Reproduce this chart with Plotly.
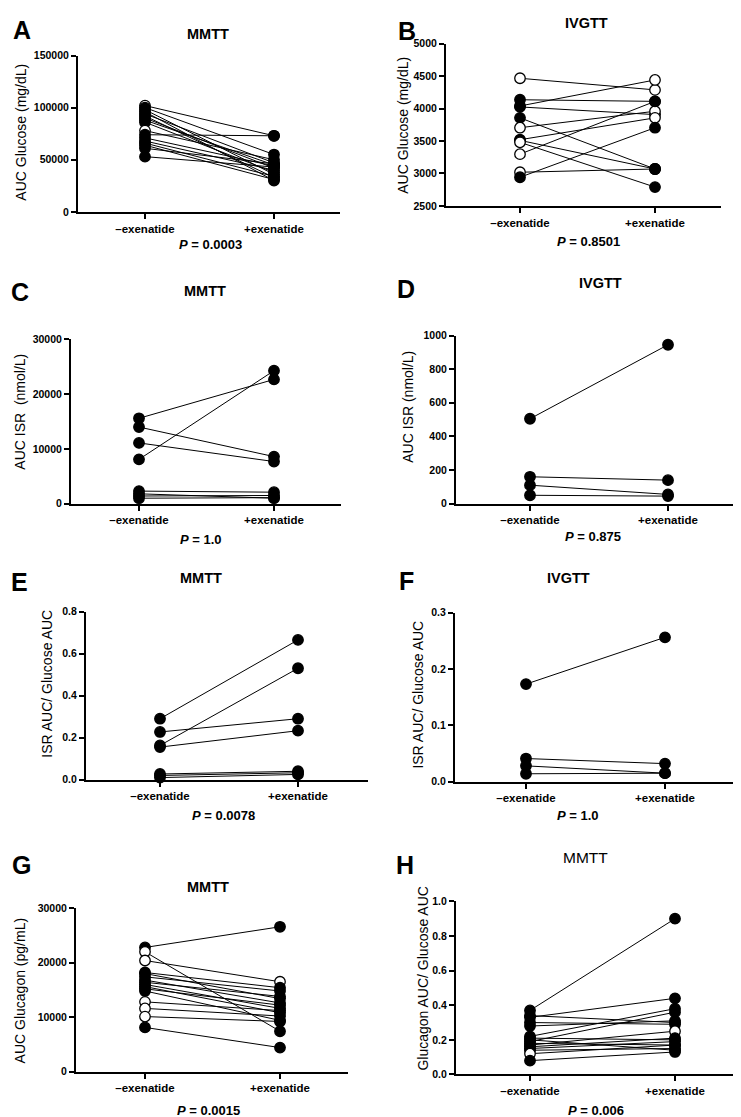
import plotly.graph_objects as go

W, H = 741, 1117
cats = ["–exenatide", "+exenatide"]

# ---------------- data ----------------
# A: MMTT AUC glucose (mg/dL)
a_pre = [102000, 100000, 98000, 96000, 94000, 92000, 90000, 88000, 86000, 78000, 74000, 71000, 68000, 66000, 64000, 61000, 53000]
a_post = [73000, 55000, 36000, 30000, 47000, 33000, 42000, 45000, 38000, 50000, 73000, 44000, 40000, 34000, 31000, 46000, 43000]
a_pre_open = [1, 0, 0, 0, 0, 0, 0, 0, 0, 1, 0, 0, 0, 0, 0, 0, 0]
a_post_open = [0] * 17

# B: IVGTT AUC glucose (mg/dL)
b_pre = [4467, 4136, 4040, 4025, 3857, 3705, 3520, 3510, 3480, 3298, 3019, 2942]
b_post = [4288, 4111, 4441, 3907, 3069, 3959, 3857, 3069, 2790, 4111, 3069, 3705]
b_pre_open = [1, 0, 0, 0, 0, 1, 0, 0, 1, 1, 1, 0]
b_post_open = [1, 0, 1, 0, 0, 1, 1, 0, 0, 0, 0, 0]

# C: MMTT AUC ISR (nmol/L)
c_pre = [15600, 8100, 14000, 11100, 2300, 1800, 1400, 1000]
c_post = [22700, 24300, 8600, 7700, 2100, 1000, 1500, 1100]

# D: IVGTT AUC ISR (nmol/L)
d_pre = [505, 160, 110, 50]
d_post = [945, 140, 55, 45]

# E: MMTT ISR AUC / glucose AUC
e_pre = [0.29, 0.163, 0.227, 0.155, 0.027, 0.02, 0.01]
e_post = [0.665, 0.53, 0.29, 0.233, 0.04, 0.033, 0.025]

# F: IVGTT ISR AUC / glucose AUC
f_pre = [0.173, 0.041, 0.028, 0.014]
f_post = [0.256, 0.032, 0.015, 0.015]

# G: MMTT AUC glucagon (pg/mL)
g_pre = [22800, 22000, 20400, 18200, 18000, 17400, 16800, 16400, 16000, 15600, 15200, 14800, 12800, 11600, 10100, 8100]
g_post = [26600, 7400, 16500, 15400, 13400, 14800, 12600, 13800, 11600, 10800, 12200, 9400, 11200, 10200, 9200, 4400]
g_pre_open = [0, 1, 1, 0, 0, 0, 0, 0, 0, 0, 0, 0, 1, 1, 1, 0]
g_post_open = [0, 0, 1, 0, 0, 0, 0, 0, 0, 0, 0, 0, 0, 0, 0, 0]

# H: MMTT glucagon AUC / glucose AUC
h_pre = [0.37, 0.34, 0.33, 0.30, 0.28, 0.22, 0.21, 0.20, 0.19, 0.18, 0.17, 0.16, 0.15, 0.14, 0.12, 0.08]
h_post = [0.90, 0.30, 0.44, 0.29, 0.31, 0.38, 0.20, 0.14, 0.36, 0.17, 0.25, 0.21, 0.19, 0.15, 0.17, 0.13]
h_pre_open = [0] * 14 + [1, 0]
h_post_open = [0] * 10 + [1] + [0] * 5

p_values = ["0.0003", "0.8501", "1.0", "0.875", "0.0078", "1.0", "0.0015", "0.006"]
titles = ["MMTT", "IVGTT", "MMTT", "IVGTT", "MMTT", "IVGTT", "MMTT", "MMTT"]
letters = ["A", "B", "C", "D", "E", "F", "G", "H"]
ytitles = ["AUC Glucose (mg/dL)", "AUC Glucose (mg/dL)", "AUC ISR  (nmol/L)", "AUC ISR (nmol/L)",
           "ISR AUC/ Glucose AUC", "ISR AUC/ Glucose AUC", "AUC Glucagon (pg/mL)", "Glucagon AUC/ Glucose AUC"]

# ---------------- layout geometry (pixels) ----------------
panels = [
    dict(pre=a_pre, post=a_post, po=a_pre_open, qo=a_post_open, yr=[0, 150000], dt=50000, fmt="d",
         x0=70, x1=332, c0=137, c1=266, yt=42, yb=200,
         title=(200, 20, True), p=(203, 233), letter=(14, 16), ylab=(13, 120)),
    dict(pre=b_pre, post=b_post, po=b_pre_open, qo=b_post_open, yr=[2500, 5000], dt=500, fmt="d",
         x0=438, x1=713, c0=512, c1=647, yt=30, yb=194,
         title=(578, 9, True), p=(580, 230), letter=(399, 17), ylab=(395, 113)),
    dict(pre=c_pre, post=c_post, po=None, qo=None, yr=[0, 30000], dt=10000, fmt="d",
         x0=63, x1=333, c0=131, c1=266, yt=329, yb=495,
         title=(197, 280, True), p=(193, 531), letter=(12, 281), ylab=(12, 402)),
    dict(pre=d_pre, post=d_post, po=None, qo=None, yr=[0, 1000], dt=200, fmt="d",
         x0=448, x1=732, c0=522, c1=660, yt=325, yb=495,
         title=(592, 272, True), p=(585, 528), letter=(398, 278), ylab=(400, 397)),
    dict(pre=e_pre, post=e_post, po=None, qo=None, yr=[0, 0.8], dt=0.2, fmt=".1f",
         x0=78, x1=360, c0=152, c1=290, yt=604, yb=774,
         title=(193, 570, True), p=(215, 810), letter=(11, 574), ylab=(39, 677)),
    dict(pre=f_pre, post=f_post, po=None, qo=None, yr=[0, 0.3], dt=0.1, fmt=".1f",
         x0=447, x1=733, c0=518, c1=657, yt=605, yb=776,
         title=(560, 570, True), p=(570, 810), letter=(398, 573), ylab=(410, 688)),
    dict(pre=g_pre, post=g_post, po=g_pre_open, qo=g_post_open, yr=[0, 30000], dt=10000, fmt="d",
         x0=68, x1=340, c0=137, c1=272, yt=904, yb=1069,
         title=(200, 882, True), p=(200, 1108), letter=(13, 860), ylab=(12, 987)),
    dict(pre=h_pre, post=h_post, po=h_pre_open, qo=h_post_open, yr=[0, 1.0], dt=0.2, fmt=".1f",
         x0=448, x1=740, c0=522, c1=667, yt=897, yb=1072,
         title=(577, 853, False), p=(588, 1108), letter=(397, 860), ylab=(415, 975)),
]

FONT = "Liberation Sans, Arial, sans-serif"
fig = go.Figure()
layout = dict(width=W, height=H, margin=dict(l=0, r=0, t=0, b=0),
              paper_bgcolor="white", plot_bgcolor="white", showlegend=False,
              font=dict(family=FONT, color="black"))
annotations = []


def px(x):
    return x / W


def py(y):
    return 1 - y / H


for i, pn in enumerate(panels):
    k = i + 1
    xa = "x" if k == 1 else f"x{k}"
    ya = "y" if k == 1 else f"y{k}"
    upp = 1.0 / (pn["c1"] - pn["c0"])
    r0 = -(pn["c0"] - pn["x0"]) * upp
    r1 = r0 + (pn["x1"] - pn["x0"]) * upp

    n = len(pn["pre"])
    po = pn["po"] if pn["po"] is not None else [0] * n
    qo = pn["qo"] if pn["qo"] is not None else [0] * n

    lx, ly = [], []
    for a, b in zip(pn["pre"], pn["post"]):
        lx += [0, 1, None]
        ly += [a, b, None]
    fig.add_trace(go.Scatter(x=lx, y=ly, mode="lines", xaxis=xa, yaxis=ya,
                             line=dict(color="black", width=1), cliponaxis=False,
                             hoverinfo="skip"))
    mx = [0] * n + [1] * n
    my = list(pn["pre"]) + list(pn["post"])
    mo = list(po) + list(qo)
    fig.add_trace(go.Scatter(x=mx, y=my, mode="markers", xaxis=xa, yaxis=ya,
                             cliponaxis=False,
                             marker=dict(size=10.5, color=["white" if o else "black" for o in mo],
                                         line=dict(color="black", width=1.3))))

    xkey = "xaxis" if k == 1 else f"xaxis{k}"
    ykey = "yaxis" if k == 1 else f"yaxis{k}"
    layout[xkey] = dict(domain=[px(pn["x0"]), px(pn["x1"])], range=[r0, r1], anchor=ya,
                        showline=True, linecolor="black", linewidth=2, showgrid=False, zeroline=False,
                        ticks="outside", ticklen=5, tickwidth=2, tickcolor="black",
                        tickvals=[0, 1], ticktext=cats,
                        tickfont=dict(family=FONT, size=11.5, color="black", weight="bold"))
    layout[ykey] = dict(domain=[py(pn["yb"]), py(pn["yt"])], range=pn["yr"], anchor=xa,
                        showline=True, linecolor="black", linewidth=2, showgrid=False, zeroline=False,
                        ticks="outside", ticklen=5, tickwidth=2, tickcolor="black",
                        dtick=pn["dt"], tick0=pn["yr"][0], tickformat=pn["fmt"],
                        tickfont=dict(family=FONT, size=10.5, color="black", weight="bold"))

    tx, ty, tb = pn["title"]
    annotations.append(dict(x=px(tx), y=py(ty), xref="paper", yref="paper", showarrow=False,
                            xanchor="center", yanchor="middle", text=titles[i],
                            font=dict(family=FONT, size=14.5 if tb else 15.5, color="black",
                                      weight="bold" if tb else "normal")))
    ppx, ppy = pn["p"]
    annotations.append(dict(x=px(ppx), y=py(ppy), xref="paper", yref="paper", showarrow=False,
                            xanchor="center", yanchor="middle",
                            text=f"<i>P</i> = {p_values[i]}",
                            font=dict(family=FONT, size=13, color="black", weight="bold")))
    lx_, ly_ = pn["letter"]
    annotations.append(dict(x=px(lx_), y=py(ly_), xref="paper", yref="paper", showarrow=False,
                            xanchor="center", yanchor="middle", text=letters[i],
                            font=dict(family=FONT, size=25, color="black", weight="bold")))
    yx, yy = pn["ylab"]
    annotations.append(dict(x=px(yx), y=py(yy), xref="paper", yref="paper", showarrow=False,
                            xanchor="center", yanchor="middle", textangle=-90, text=ytitles[i],
                            font=dict(family=FONT, size=14, color="black")))

layout["annotations"] = annotations
fig.update_layout(**layout)
fig.write_html("out.html")
